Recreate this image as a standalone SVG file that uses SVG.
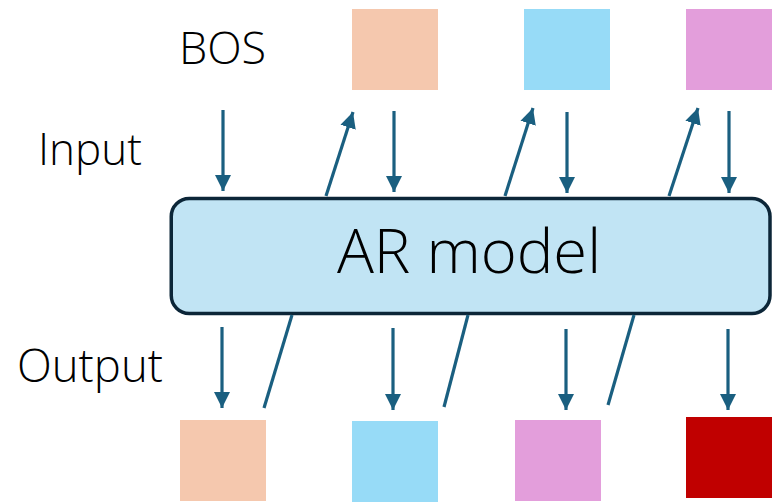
<svg xmlns="http://www.w3.org/2000/svg" width="772" height="502" viewBox="0 0 772 502">
  <defs>
    <marker id="ah" markerUnits="userSpaceOnUse" markerWidth="17" markerHeight="17" viewBox="0 0 17 17" refX="16" refY="8.5" orient="auto">
      <path d="M0,0.5 L16,8.5 L0,16.5 z" fill="#1A5F80"/>
    </marker>
    <style>
      .lbl { font-family: "Open Sans", "Noto Sans", sans-serif; font-weight: 300; fill: #000; text-anchor: middle; }
      .arr { stroke: #1A5F80; stroke-width: 3.2; fill: none; marker-end: url(#ah); }
      .ln { stroke: #1A5F80; stroke-width: 3.2; fill: none; }
    </style>
  </defs>
  <rect width="772" height="502" fill="#ffffff"/>

  <g id="labels">
    <text class="lbl" x="222.5" y="64" font-size="45">BOS</text>
    <text class="lbl" x="90" y="165" font-size="44">Input</text>
    <text class="lbl" x="90" y="382" font-size="45.5">Output</text>
  </g>

  <g id="ar-model">
    <rect x="171.25" y="198.5" width="598.75" height="115" rx="18" fill="#C1E4F4" stroke="#0C2638" stroke-width="3.5"/>
    <text class="lbl" x="469" y="273" font-size="61.5">AR model</text>
  </g>

  <g id="input-tokens">
    <rect id="in1" x="352" y="9" width="86" height="81" fill="#F5C8AE"/>
    <rect id="in2" x="524" y="9" width="86" height="81" fill="#97DBF7"/>
    <rect id="in3" x="686" y="9" width="86" height="81" fill="#E39EDB"/>
  </g>

  <g id="output-tokens">
    <rect id="out1" x="180" y="420" width="86" height="81" fill="#F5C8AE"/>
    <rect id="out2" x="352" y="421" width="86" height="81" fill="#97DBF7"/>
    <rect id="out3" x="515" y="420" width="86" height="81" fill="#E39EDB"/>
    <rect id="out4" x="686" y="417" width="86" height="81" fill="#C00000"/>
  </g>

  <g id="connectors">
    <line class="arr" x1="223" y1="110" x2="223" y2="191"/>
    <line class="arr" x1="394" y1="111" x2="394" y2="192"/>
    <line class="arr" x1="567" y1="112" x2="567" y2="193"/>
    <line class="arr" x1="729" y1="111" x2="729" y2="193"/>
    <line class="arr" x1="326" y1="196" x2="353" y2="112"/>
    <line class="arr" x1="505" y1="196" x2="533" y2="108"/>
    <line class="arr" x1="669" y1="196" x2="698" y2="108"/>
    <line class="arr" x1="222" y1="327" x2="222" y2="408"/>
    <line class="arr" x1="393" y1="328" x2="393" y2="410"/>
    <line class="arr" x1="566" y1="329" x2="566" y2="410"/>
    <line class="arr" x1="728" y1="329" x2="728" y2="410"/>
    <line class="ln" x1="292" y1="315" x2="264" y2="408"/>
    <line class="ln" x1="468" y1="315" x2="444" y2="407"/>
    <line class="ln" x1="634" y1="315" x2="608" y2="405"/>
  </g>
</svg>
